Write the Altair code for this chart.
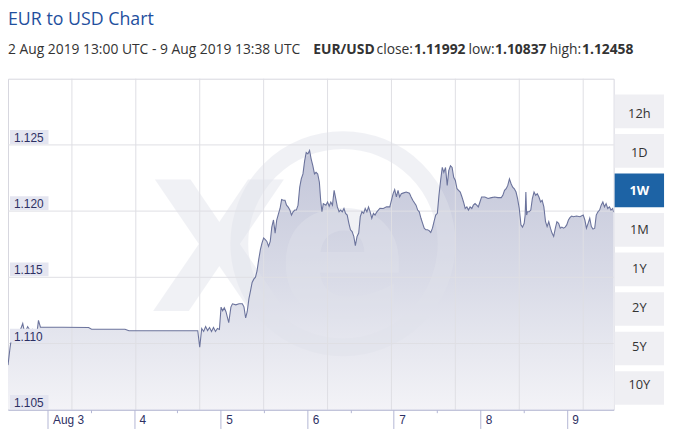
import altair as alt
import pandas as pd

# ---------------- data ----------------
# hours after 2 Aug 2019 13:00 UTC
hours = [0.00, 0.55, 0.82, 1.36, 2.45, 3.27, 4.09, 4.64, 5.45, 6.27,
         6.82, 7.64, 8.18, 8.45, 9.00, 15.00, 22.36, 23.18, 32.45, 33.55,
         52.64, 53.18, 53.73, 54.27, 54.82, 55.36, 55.91, 56.45, 57.00, 57.55,
         58.09, 58.64, 59.10, 59.54, 60.00, 60.46, 61.23, 61.83, 62.26, 63.19,
         64.09, 64.99, 65.45, 65.92, 66.35, 66.82, 67.28, 67.72, 68.18, 68.65,
         69.08, 69.55, 70.01, 70.45, 70.91, 71.37, 71.81, 72.27, 72.74, 73.17,
         73.64, 74.10, 74.54, 75.00, 75.46, 75.90, 76.36, 76.83, 77.26, 77.73,
         78.19, 78.63, 79.09, 79.55, 79.99, 80.45, 80.92, 81.35, 81.82, 82.28,
         82.72, 83.18, 83.65, 84.08, 84.55, 85.01, 85.45, 85.91, 86.37, 86.73,
         87.08, 87.46, 88.17, 88.64, 89.10, 89.54, 90.00, 90.46, 90.90, 91.36,
         91.83, 92.26, 92.73, 93.19, 93.63, 94.09, 94.55, 94.99, 95.45, 95.92,
         96.35, 96.82, 97.28, 97.72, 98.18, 98.65, 99.08, 99.55, 100.01, 100.45,
         100.91, 101.37, 101.81, 102.27, 103.17, 104.10, 105.00, 105.90, 106.83, 107.26,
         107.73, 108.19, 108.63, 109.09, 109.55, 110.45, 111.35, 111.82, 112.28, 113.18,
         113.64, 114.08, 114.55, 115.01, 115.45, 115.91, 116.37, 116.81, 117.27, 117.74,
         118.17, 118.64, 119.10, 119.54, 120.00, 120.46, 120.90, 121.36, 121.83, 122.26,
         122.73, 123.19, 123.63, 124.09, 124.55, 124.99, 125.45, 125.92, 126.35, 126.82,
         127.28, 127.72, 128.18, 128.65, 129.08, 129.55, 130.01, 130.45, 130.91, 131.37,
         132.27, 133.17, 134.10, 135.00, 135.90, 136.83, 137.26, 137.73, 138.19, 138.63,
         139.09, 139.55, 139.99, 140.45, 140.92, 141.35, 141.82, 142.28, 142.72, 143.18,
         143.45, 143.65, 143.86, 144.08, 144.55, 145.01, 145.45, 145.91, 146.37, 146.81,
         147.27, 147.74, 148.17, 148.64, 149.10, 149.54, 150.00, 150.46, 150.90, 151.36,
         151.83, 152.26, 152.73, 153.19, 153.63, 154.09, 154.55, 154.99, 155.45, 155.92,
         156.35, 156.82, 157.72, 158.65, 159.55, 160.01, 160.45, 160.91, 161.37, 161.81,
         162.27, 162.74, 163.17, 163.64, 164.10, 164.54, 165.00, 165.46, 165.90, 166.36,
         166.83, 167.26, 167.73, 168.00]

rates = [1.10837, 1.10964, 1.11016, 1.11026, 1.11054, 1.11091, 1.11151, 1.11076, 1.11128, 1.11091,
         1.11106, 1.11054, 1.11113, 1.11175, 1.11124, 1.11123, 1.11121, 1.11108, 1.11108, 1.11096,
         1.11096, 1.10972, 1.11113, 1.11091, 1.11128, 1.11098, 1.11121, 1.11091, 1.11121, 1.11091,
         1.11113, 1.11106, 1.11275, 1.11247, 1.11270, 1.11240, 1.11158, 1.11275, 1.11300, 1.11292,
         1.11300, 1.11300, 1.11277, 1.11193, 1.11240, 1.11337, 1.11399, 1.11461, 1.11486, 1.11501,
         1.11548, 1.11635, 1.11709, 1.11759, 1.11797, 1.11784, 1.11771, 1.11734, 1.11771, 1.11879,
         1.11933, 1.11834, 1.11933, 1.11978, 1.12020, 1.12087, 1.12082, 1.12082, 1.12045, 1.12030,
         1.12008, 1.11970, 1.11995, 1.12008, 1.12008, 1.12045, 1.12181, 1.12244, 1.12281, 1.12380,
         1.12442, 1.12432, 1.12458, 1.12395, 1.12343, 1.12281, 1.12293, 1.12281, 1.12218, 1.12082,
         1.11995, 1.12057, 1.12045, 1.12069, 1.12037, 1.12069, 1.12045, 1.12157, 1.12097, 1.12032,
         1.11995, 1.12008, 1.11995, 1.12020, 1.11983, 1.11970, 1.11908, 1.11859, 1.11846, 1.11809,
         1.11739, 1.11809, 1.11834, 1.11958, 1.11995, 1.11983, 1.12020, 1.11995, 1.12032, 1.11995,
         1.11946, 1.11983, 1.11970, 1.11993, 1.12022, 1.12020, 1.12032, 1.12032, 1.12132, 1.12162,
         1.12107, 1.12157, 1.12107, 1.12132, 1.12136, 1.12144, 1.12136, 1.12107, 1.12082, 1.12045,
         1.12008, 1.11995, 1.11946, 1.11908, 1.11871, 1.11859, 1.11859, 1.11853, 1.11838, 1.11871,
         1.11920, 1.11970, 1.11983, 1.12119, 1.12231, 1.12330, 1.12293, 1.12330, 1.12194, 1.12306,
         1.12343, 1.12330, 1.12256, 1.12231, 1.12169, 1.12157, 1.12144, 1.12107, 1.12069, 1.12020,
         1.12032, 1.12008, 1.12032, 1.12020, 1.12045, 1.12057, 1.12045, 1.12032, 1.12069, 1.12107,
         1.12107, 1.12095, 1.12102, 1.12107, 1.12102, 1.12102, 1.12119, 1.12157, 1.12169, 1.12194,
         1.12244, 1.12207, 1.12181, 1.12169, 1.12144, 1.12095, 1.12020, 1.11896, 1.11879, 1.11908,
         1.11970, 1.12144, 1.11970, 1.11995, 1.11995, 1.12008, 1.12095, 1.12144, 1.12119, 1.12132,
         1.12107, 1.12069, 1.12082, 1.12032, 1.11920, 1.11883, 1.11920, 1.11871, 1.11834, 1.11809,
         1.11871, 1.11920, 1.11908, 1.11871, 1.11879, 1.11871, 1.11879, 1.11896, 1.11933, 1.11953,
         1.11963, 1.11958, 1.11963, 1.11958, 1.11970, 1.11933, 1.11871, 1.11908, 1.11946, 1.11883,
         1.11864, 1.11871, 1.11970, 1.11995, 1.12008, 1.12045, 1.12069, 1.12032, 1.12057, 1.12020,
         1.12032, 1.12008, 1.12020, 1.11992]

y_ticks = [1.105, 1.110, 1.115, 1.120, 1.125]
y_tick_labels = ["1.105", "1.110", "1.115", "1.120", "1.125"]
y_grid = [1.110, 1.115, 1.120, 1.125]
y_min, y_max = 1.105, 1.130
day_ticks = [3, 4, 5, 6, 7, 8, 9]
noon_ticks = [3, 4, 5, 6, 7, 8]
# vertical background grid lines (hours after start)
grid_hours = [17.73, 35.45, 53.18, 70.91, 88.64, 106.36, 124.09, 141.82, 159.55]
buttons = ["12h", "1D", "1W", "1M", "1Y", "2Y", "5Y", "10Y"]
selected = "1W"

title_text = "EUR to USD Chart"
subtitle_parts = [
    ("2 Aug 2019 13:00 UTC - 9 Aug 2019 13:38 UTC", "normal", 0),
    ("EUR/USD", "bold", 309),
    ("close:", "normal", 373),
    ("1.11992", "bold", 411),
    ("low:", "normal", 466),
    ("1.10837", "bold", 493),
    ("high:", "normal", 548),
    ("1.12458", "bold", 581),
]

# ---------------- tables ----------------
start = pd.Timestamp("2019-08-02T13:00:00")
def iso(h):
    return (start + pd.Timedelta(hours=h)).strftime("%Y-%m-%dT%H:%M:%SZ")

df = pd.DataFrame({"time": [iso(h) for h in hours], "rate": rates})
grid_df = pd.DataFrame({"time": [iso(h) for h in grid_hours]})
ytick_df = pd.DataFrame({"v": y_ticks, "label": y_tick_labels})
ygrid_df = pd.DataFrame({"v": y_grid})
btn_df = pd.DataFrame({"label": buttons})
one = pd.DataFrame({"k": [0]})

W, H = 613, 335
LINE = "#6b739c"
AXIS_C = "#b3b6d4"
LABEL_C = "#2d3063"
GRID_C = "#dedee4"
WM = "#e0e2eb"

x_scale = alt.Scale(
    type="utc",
    domain=[alt.DateTime(year=2019, month=8, date=2, hours=13, utc=True),
            alt.DateTime(year=2019, month=8, date=9, hours=13, utc=True)],
)
y_scale = alt.Scale(domain=[y_min, y_max], nice=False, zero=False)

tick_values = [alt.DateTime(year=2019, month=8, date=d, hours=0, utc=True) for d in day_ticks] + \
              [alt.DateTime(year=2019, month=8, date=d, hours=12, utc=True) for d in noon_ticks]

x_axis = alt.Axis(
    values=tick_values,
    labelExpr="utchours(datum.value) != 0 ? '' : (utcdate(datum.value) == 3 ? 'Aug 3' : '' + utcdate(datum.value))",
    labelAlign="left", labelOffset=5, labelBaseline="top", labelPadding=-14,
    labelFont="Liberation Sans", labelFontSize=12, labelColor=LABEL_C,
    labelOverlap=False, labelFlush=False,
    tickSize={"condition": {"test": "utchours(datum.value) == 12", "value": 3}, "value": 19},
    tickColor=AXIS_C, domainColor=AXIS_C, grid=False, title=None, zindex=1,
)

base = alt.Chart(df)

area = base.mark_area(
    clip=True,
    opacity=1,
    fill={
        "gradient": "linear",
        "x1": 0, "y1": 0, "x2": 0, "y2": 1,
        "stops": [
            {"offset": 0, "color": "#c3c6d9"},
            {"offset": 0.5, "color": "#d9dbe7"},
            {"offset": 1, "color": "#f3f3f7"},
        ],
    },
).encode(
    x=alt.X("time:T", scale=x_scale, axis=x_axis, title=None),
    y=alt.Y("rate:Q", scale=y_scale, axis=None, title=None),
    y2=alt.datum(y_min),
)

line = base.mark_line(color=LINE, strokeWidth=1.1, clip=True).encode(
    x=alt.X("time:T", scale=x_scale, title=None),
    y=alt.Y("rate:Q", scale=y_scale, axis=None, title=None),
)

# watermark (xe logo)
wm_x = alt.Chart(one).mark_text(
    text="X", font="DejaVu Sans", fontWeight="bold", fontSize=183,
    align="center", baseline="alphabetic", color=WM, opacity=0.45,
).encode(x=alt.value(214), y=alt.value(235))
wm_ring = alt.Chart(one).mark_point(
    shape="circle", filled=False, size=44000, strokeWidth=18, color=WM, opacity=0.45,
).encode(x=alt.value(339), y=alt.value(167))
wm_e = alt.Chart(one).mark_text(
    text="e", font="DejaVu Sans", fontWeight="bold", fontSize=195,
    align="center", baseline="alphabetic", color=WM, opacity=0.45,
).encode(x=alt.value(339), y=alt.value(240))

vgrid = alt.Chart(grid_df).mark_rule(color=GRID_C, strokeWidth=1).encode(
    x=alt.X("time:T", scale=x_scale, title=None),
)
hgrid = alt.Chart(ygrid_df).mark_rule(color=GRID_C, strokeWidth=1).encode(
    y=alt.Y("v:Q", scale=y_scale, axis=None, title=None),
)

ybox = alt.Chart(ytick_df).mark_rect(color="#e4e5f0", yOffset=-15, y2Offset=-1).encode(
    x=alt.value(2), x2=alt.value(41),
    y=alt.Y("v:Q", scale=y_scale, axis=None, title=None),
    y2="v:Q",
)
ytext = alt.Chart(ytick_df).mark_text(
    align="left", baseline="alphabetic", dy=-3, font="Liberation Sans", fontSize=12, color=LABEL_C,
).encode(
    x=alt.value(6),
    y=alt.Y("v:Q", scale=y_scale, axis=None, title=None),
    text="label:N",
)

btn_y = alt.Y("label:N", scale=alt.Scale(domain=buttons, range=[16, 330], paddingInner=0.15, paddingOuter=0),
              axis=None, title=None)
btn_rect = alt.Chart(btn_df).mark_rect().encode(
    x=alt.value(614), x2=alt.value(664), y=btn_y,
    color=alt.condition(f"datum.label == '{selected}'", alt.value("#1d63a5"), alt.value("#efeff3")),
)
btn_text = alt.Chart(btn_df).transform_filter(f"datum.label != '{selected}'").mark_text(
    font="Open Sans", fontSize=13, color="#333333", align="center", baseline="middle",
).encode(x=alt.value(639), y=btn_y, text="label:N")
btn_sel = alt.Chart(btn_df).transform_filter(f"datum.label == '{selected}'").mark_text(
    font="Open Sans", fontSize=13, fontWeight="bold", color="#ffffff", align="center", baseline="middle",
).encode(x=alt.value(639), y=btn_y, text="label:N")

title = alt.Chart(one).mark_text(
    text=title_text, font="Open Sans", fontSize=18, color="#1f4f9e",
    align="left", baseline="alphabetic",
).encode(x=alt.value(0), y=alt.value(-54))

sub_layers = []
for txt, wt, px in subtitle_parts:
    sub_layers.append(
        alt.Chart(one).mark_text(
            text=txt, font="Open Sans", fontSize=14, fontWeight=wt, color="#333333",
            align="left", baseline="alphabetic",
        ).encode(x=alt.value(px), y=alt.value(-25))
    )

chart = alt.layer(
    area, wm_x, wm_ring, wm_e, vgrid, hgrid, line, ybox, ytext,
    btn_rect, btn_text, btn_sel, title, *sub_layers,
).resolve_scale(y="independent").properties(
    width=W, height=H,
    autosize=alt.AutoSizeParams(type="none"),
    padding={"left": 0, "top": 69, "right": 55, "bottom": 22},
).configure_view(stroke="#d6d6de")

chart.save("out.html", embed_options={"renderer": "svg", "actions": False})
